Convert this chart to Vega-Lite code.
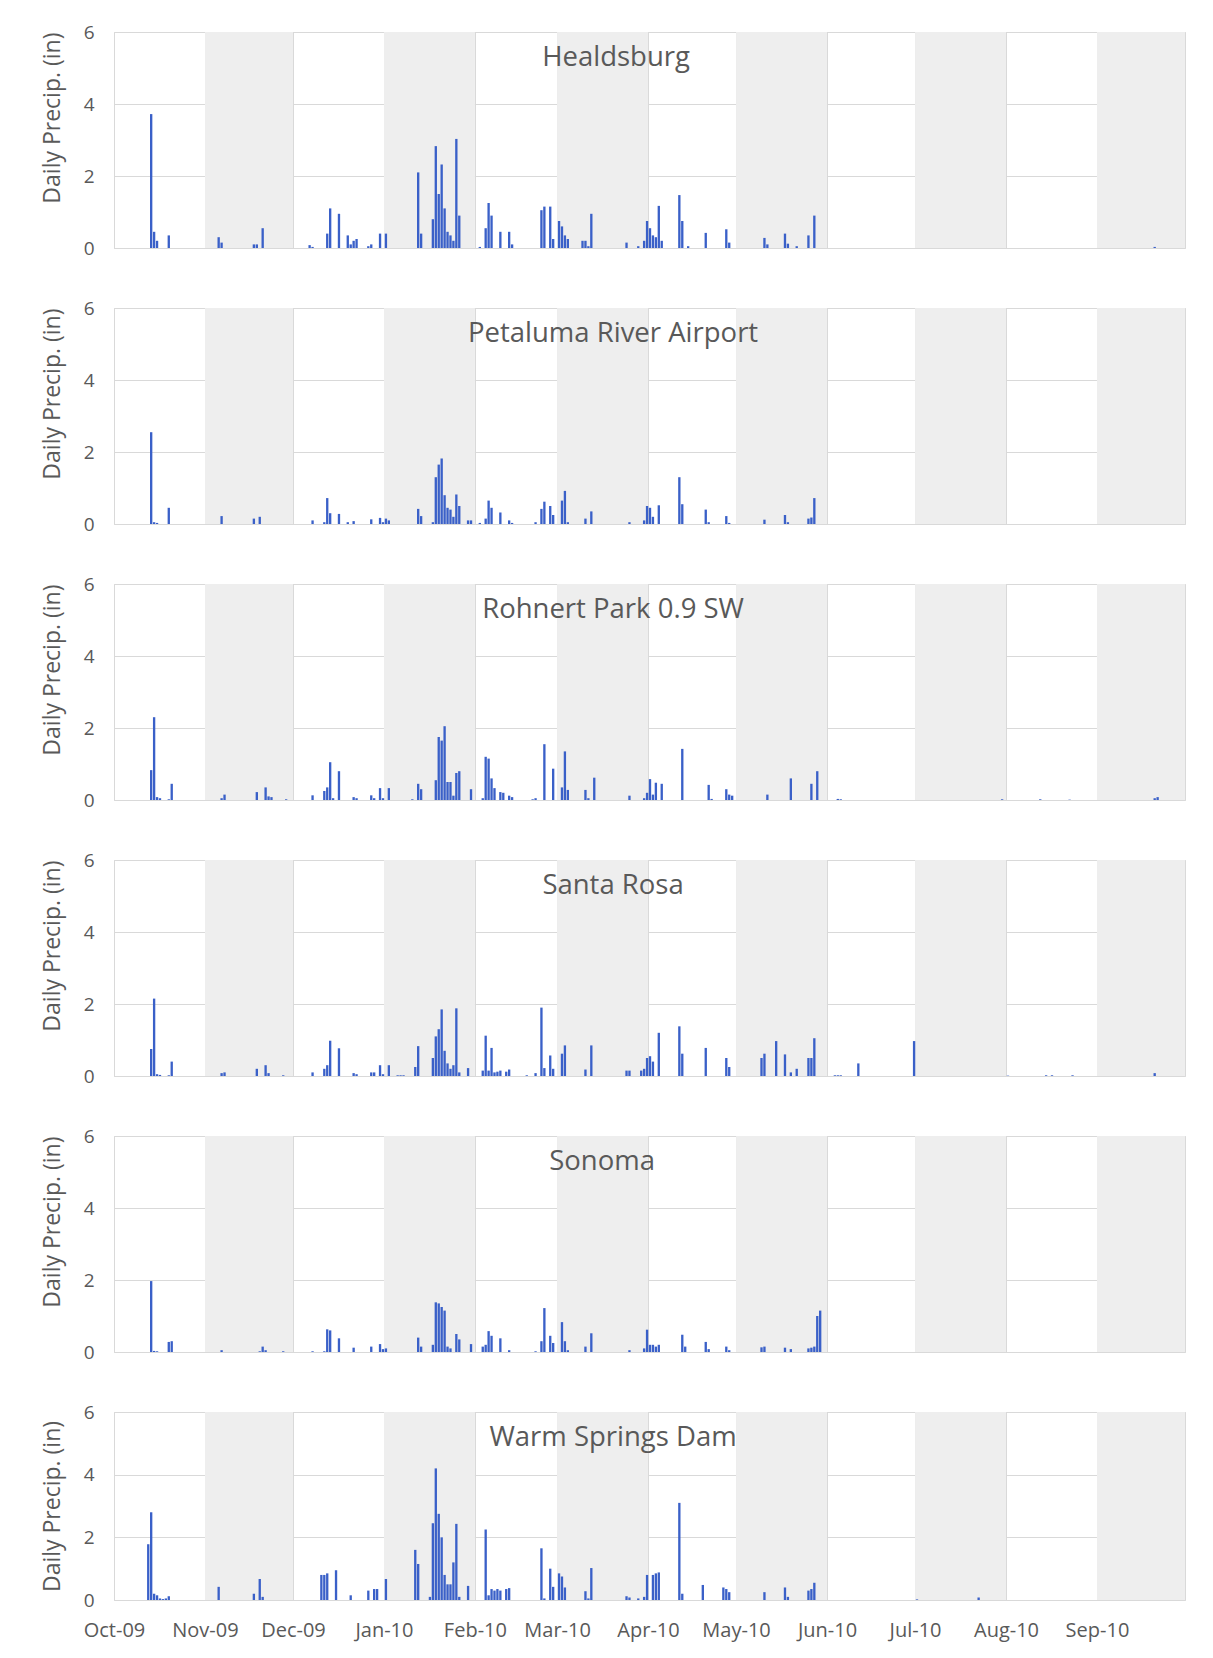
{
"$schema": "https://vega.github.io/schema/vega-lite/v6.json",
"background": "white",
"padding": {"left": 40, "top": 22, "right": 26, "bottom": 14},
"spacing": 60,
"bounds": "flush",
"config": {
 "view": {"stroke": "#d9d9d9", "strokeWidth": 1},
 "font": "Open Sans",
 "bar": {"binSpacing": 0.6},
 "axis": {"gridColor": "#d9d9d9", "gridWidth": 1, "domain": false, "ticks": false, "labelColor": "#595959", "titleColor": "#595959", "labelFont": "Open Sans", "titleFont": "Open Sans", "titleFontWeight": "normal", "zindex": 1},
 "title": {"fontSize": 27.5, "fontWeight": "normal", "color": "#595959", "font": "Open Sans", "anchor": "middle", "frame": "bounds", "baseline": "middle", "offset": -48}
},
"datasets": {
 "months": [{"m0":"2009-11-01","m1":"2009-12-01"},{"m0":"2010-01-01","m1":"2010-02-01"},{"m0":"2010-03-01","m1":"2010-04-01"},{"m0":"2010-05-01","m1":"2010-06-01"},{"m0":"2010-07-01","m1":"2010-08-01"},{"m0":"2010-09-01","m1":"2010-10-01"}],
 "hb": [{"d":"2009-10-13","p":3.72},{"d":"2009-10-14","p":0.45},{"d":"2009-10-15","p":0.2},{"d":"2009-10-19","p":0.35},{"d":"2009-11-05","p":0.3},{"d":"2009-11-06","p":0.15},{"d":"2009-11-17","p":0.1},{"d":"2009-11-18","p":0.1},{"d":"2009-11-20","p":0.55},{"d":"2009-12-06","p":0.08},{"d":"2009-12-07","p":0.03},{"d":"2009-12-12","p":0.4},{"d":"2009-12-13","p":1.1},{"d":"2009-12-16","p":0.95},{"d":"2009-12-19","p":0.35},{"d":"2009-12-20","p":0.1},{"d":"2009-12-21","p":0.2},{"d":"2009-12-22","p":0.25},{"d":"2009-12-26","p":0.05},{"d":"2009-12-27","p":0.1},{"d":"2009-12-30","p":0.4},{"d":"2010-01-01","p":0.4},{"d":"2010-01-12","p":2.1},{"d":"2010-01-13","p":0.4},{"d":"2010-01-17","p":0.8},{"d":"2010-01-18","p":2.83},{"d":"2010-01-19","p":1.5},{"d":"2010-01-20","p":2.32},{"d":"2010-01-21","p":1.1},{"d":"2010-01-22","p":0.45},{"d":"2010-01-23","p":0.35},{"d":"2010-01-24","p":0.2},{"d":"2010-01-25","p":3.03},{"d":"2010-01-26","p":0.9},{"d":"2010-02-02","p":0.03},{"d":"2010-02-04","p":0.55},{"d":"2010-02-05","p":1.25},{"d":"2010-02-06","p":0.9},{"d":"2010-02-09","p":0.45},{"d":"2010-02-12","p":0.45},{"d":"2010-02-13","p":0.1},{"d":"2010-02-23","p":1.05},{"d":"2010-02-24","p":1.15},{"d":"2010-02-26","p":1.15},{"d":"2010-02-27","p":0.25},{"d":"2010-03-01","p":0.75},{"d":"2010-03-02","p":0.6},{"d":"2010-03-03","p":0.35},{"d":"2010-03-04","p":0.25},{"d":"2010-03-09","p":0.2},{"d":"2010-03-10","p":0.2},{"d":"2010-03-11","p":0.05},{"d":"2010-03-12","p":0.95},{"d":"2010-03-24","p":0.15},{"d":"2010-03-28","p":0.05},{"d":"2010-03-30","p":0.2},{"d":"2010-03-31","p":0.75},{"d":"2010-04-01","p":0.55},{"d":"2010-04-02","p":0.35},{"d":"2010-04-03","p":0.3},{"d":"2010-04-04","p":1.17},{"d":"2010-04-05","p":0.2},{"d":"2010-04-11","p":1.47},{"d":"2010-04-12","p":0.75},{"d":"2010-04-14","p":0.05},{"d":"2010-04-20","p":0.42},{"d":"2010-04-27","p":0.52},{"d":"2010-04-28","p":0.15},{"d":"2010-05-10","p":0.28},{"d":"2010-05-11","p":0.1},{"d":"2010-05-17","p":0.4},{"d":"2010-05-18","p":0.12},{"d":"2010-05-21","p":0.05},{"d":"2010-05-25","p":0.35},{"d":"2010-05-27","p":0.9},{"d":"2010-09-20","p":0.03}],
 "pe": [{"d":"2009-10-13","p":2.55},{"d":"2009-10-14","p":0.05},{"d":"2009-10-15","p":0.03},{"d":"2009-10-19","p":0.45},{"d":"2009-11-06","p":0.22},{"d":"2009-11-17","p":0.15},{"d":"2009-11-19","p":0.2},{"d":"2009-12-07","p":0.1},{"d":"2009-12-11","p":0.05},{"d":"2009-12-12","p":0.72},{"d":"2009-12-13","p":0.3},{"d":"2009-12-16","p":0.28},{"d":"2009-12-19","p":0.05},{"d":"2009-12-21","p":0.08},{"d":"2009-12-27","p":0.13},{"d":"2009-12-30","p":0.17},{"d":"2009-12-31","p":0.05},{"d":"2010-01-01","p":0.15},{"d":"2010-01-02","p":0.1},{"d":"2010-01-12","p":0.42},{"d":"2010-01-13","p":0.22},{"d":"2010-01-17","p":0.05},{"d":"2010-01-18","p":1.3},{"d":"2010-01-19","p":1.65},{"d":"2010-01-20","p":1.82},{"d":"2010-01-21","p":0.8},{"d":"2010-01-22","p":0.45},{"d":"2010-01-23","p":0.4},{"d":"2010-01-24","p":0.2},{"d":"2010-01-25","p":0.82},{"d":"2010-01-26","p":0.5},{"d":"2010-01-29","p":0.1},{"d":"2010-01-30","p":0.1},{"d":"2010-02-02","p":0.03},{"d":"2010-02-04","p":0.15},{"d":"2010-02-05","p":0.65},{"d":"2010-02-06","p":0.45},{"d":"2010-02-09","p":0.32},{"d":"2010-02-12","p":0.1},{"d":"2010-02-13","p":0.03},{"d":"2010-02-21","p":0.05},{"d":"2010-02-23","p":0.42},{"d":"2010-02-24","p":0.62},{"d":"2010-02-26","p":0.5},{"d":"2010-02-27","p":0.25},{"d":"2010-03-02","p":0.65},{"d":"2010-03-03","p":0.92},{"d":"2010-03-04","p":0.05},{"d":"2010-03-10","p":0.15},{"d":"2010-03-12","p":0.35},{"d":"2010-03-25","p":0.05},{"d":"2010-03-30","p":0.1},{"d":"2010-03-31","p":0.5},{"d":"2010-04-01","p":0.45},{"d":"2010-04-02","p":0.2},{"d":"2010-04-04","p":0.52},{"d":"2010-04-11","p":1.3},{"d":"2010-04-12","p":0.55},{"d":"2010-04-20","p":0.4},{"d":"2010-04-21","p":0.05},{"d":"2010-04-27","p":0.22},{"d":"2010-04-28","p":0.03},{"d":"2010-05-10","p":0.12},{"d":"2010-05-17","p":0.25},{"d":"2010-05-18","p":0.05},{"d":"2010-05-25","p":0.15},{"d":"2010-05-26","p":0.18},{"d":"2010-05-27","p":0.72}],
 "rp": [{"d":"2009-10-13","p":0.83},{"d":"2009-10-14","p":2.3},{"d":"2009-10-15","p":0.08},{"d":"2009-10-16","p":0.05},{"d":"2009-10-19","p":0.02},{"d":"2009-10-20","p":0.45},{"d":"2009-11-06","p":0.05},{"d":"2009-11-07","p":0.15},{"d":"2009-11-18","p":0.22},{"d":"2009-11-21","p":0.35},{"d":"2009-11-22","p":0.1},{"d":"2009-11-23","p":0.08},{"d":"2009-11-28","p":0.02},{"d":"2009-12-07","p":0.13},{"d":"2009-12-11","p":0.25},{"d":"2009-12-12","p":0.35},{"d":"2009-12-13","p":1.05},{"d":"2009-12-14","p":0.05},{"d":"2009-12-16","p":0.8},{"d":"2009-12-21","p":0.08},{"d":"2009-12-22","p":0.05},{"d":"2009-12-27","p":0.13},{"d":"2009-12-28","p":0.05},{"d":"2009-12-30","p":0.33},{"d":"2009-12-31","p":0.05},{"d":"2010-01-02","p":0.33},{"d":"2010-01-10","p":0.02},{"d":"2010-01-12","p":0.45},{"d":"2010-01-13","p":0.3},{"d":"2010-01-18","p":0.55},{"d":"2010-01-19","p":1.75},{"d":"2010-01-20","p":1.65},{"d":"2010-01-21","p":2.05},{"d":"2010-01-22","p":0.5},{"d":"2010-01-23","p":0.5},{"d":"2010-01-24","p":0.12},{"d":"2010-01-25","p":0.75},{"d":"2010-01-26","p":0.8},{"d":"2010-01-30","p":0.3},{"d":"2010-02-03","p":0.05},{"d":"2010-02-04","p":1.2},{"d":"2010-02-05","p":1.15},{"d":"2010-02-06","p":0.6},{"d":"2010-02-07","p":0.33},{"d":"2010-02-09","p":0.22},{"d":"2010-02-10","p":0.2},{"d":"2010-02-12","p":0.12},{"d":"2010-02-13","p":0.08},{"d":"2010-02-20","p":0.02},{"d":"2010-02-21","p":0.05},{"d":"2010-02-24","p":1.55},{"d":"2010-02-27","p":0.87},{"d":"2010-03-02","p":0.35},{"d":"2010-03-03","p":1.35},{"d":"2010-03-04","p":0.28},{"d":"2010-03-10","p":0.28},{"d":"2010-03-11","p":0.05},{"d":"2010-03-13","p":0.62},{"d":"2010-03-25","p":0.12},{"d":"2010-03-30","p":0.05},{"d":"2010-03-31","p":0.2},{"d":"2010-04-01","p":0.58},{"d":"2010-04-02","p":0.15},{"d":"2010-04-03","p":0.48},{"d":"2010-04-05","p":0.45},{"d":"2010-04-12","p":1.42},{"d":"2010-04-21","p":0.42},{"d":"2010-04-22","p":0.03},{"d":"2010-04-27","p":0.3},{"d":"2010-04-28","p":0.15},{"d":"2010-04-29","p":0.12},{"d":"2010-05-11","p":0.15},{"d":"2010-05-19","p":0.6},{"d":"2010-05-26","p":0.45},{"d":"2010-05-28","p":0.8},{"d":"2010-06-04","p":0.03},{"d":"2010-06-05","p":0.02},{"d":"2010-07-30","p":0.02},{"d":"2010-08-12","p":0.02},{"d":"2010-08-22","p":0.01},{"d":"2010-09-20","p":0.05},{"d":"2010-09-21","p":0.08}],
 "sr": [{"d":"2009-10-13","p":0.75},{"d":"2009-10-14","p":2.15},{"d":"2009-10-15","p":0.05},{"d":"2009-10-16","p":0.03},{"d":"2009-10-19","p":0.02},{"d":"2009-10-20","p":0.4},{"d":"2009-11-06","p":0.08},{"d":"2009-11-07","p":0.1},{"d":"2009-11-18","p":0.2},{"d":"2009-11-21","p":0.3},{"d":"2009-11-22","p":0.08},{"d":"2009-11-27","p":0.02},{"d":"2009-12-07","p":0.1},{"d":"2009-12-11","p":0.2},{"d":"2009-12-12","p":0.3},{"d":"2009-12-13","p":0.98},{"d":"2009-12-16","p":0.77},{"d":"2009-12-21","p":0.08},{"d":"2009-12-22","p":0.05},{"d":"2009-12-27","p":0.1},{"d":"2009-12-28","p":0.1},{"d":"2009-12-30","p":0.3},{"d":"2009-12-31","p":0.05},{"d":"2010-01-02","p":0.3},{"d":"2010-01-05","p":0.02},{"d":"2010-01-06","p":0.02},{"d":"2010-01-07","p":0.02},{"d":"2010-01-11","p":0.25},{"d":"2010-01-12","p":0.83},{"d":"2010-01-17","p":0.5},{"d":"2010-01-18","p":1.1},{"d":"2010-01-19","p":1.3},{"d":"2010-01-20","p":1.85},{"d":"2010-01-21","p":0.7},{"d":"2010-01-22","p":0.35},{"d":"2010-01-23","p":0.2},{"d":"2010-01-24","p":0.3},{"d":"2010-01-25","p":1.88},{"d":"2010-01-26","p":0.1},{"d":"2010-01-29","p":0.22},{"d":"2010-02-03","p":0.15},{"d":"2010-02-04","p":1.12},{"d":"2010-02-05","p":0.15},{"d":"2010-02-06","p":0.78},{"d":"2010-02-07","p":0.1},{"d":"2010-02-08","p":0.12},{"d":"2010-02-09","p":0.15},{"d":"2010-02-11","p":0.12},{"d":"2010-02-12","p":0.18},{"d":"2010-02-18","p":0.02},{"d":"2010-02-21","p":0.08},{"d":"2010-02-23","p":1.9},{"d":"2010-02-24","p":0.22},{"d":"2010-02-26","p":0.57},{"d":"2010-02-27","p":0.2},{"d":"2010-03-02","p":0.62},{"d":"2010-03-03","p":0.85},{"d":"2010-03-10","p":0.18},{"d":"2010-03-12","p":0.85},{"d":"2010-03-24","p":0.15},{"d":"2010-03-25","p":0.15},{"d":"2010-03-29","p":0.15},{"d":"2010-03-30","p":0.2},{"d":"2010-03-31","p":0.5},{"d":"2010-04-01","p":0.55},{"d":"2010-04-02","p":0.4},{"d":"2010-04-04","p":1.2},{"d":"2010-04-11","p":1.38},{"d":"2010-04-12","p":0.62},{"d":"2010-04-20","p":0.78},{"d":"2010-04-27","p":0.5},{"d":"2010-04-28","p":0.25},{"d":"2010-05-09","p":0.5},{"d":"2010-05-10","p":0.62},{"d":"2010-05-14","p":0.97},{"d":"2010-05-17","p":0.6},{"d":"2010-05-19","p":0.1},{"d":"2010-05-21","p":0.2},{"d":"2010-05-25","p":0.5},{"d":"2010-05-26","p":0.5},{"d":"2010-05-27","p":1.05},{"d":"2010-06-03","p":0.02},{"d":"2010-06-04","p":0.02},{"d":"2010-06-05","p":0.02},{"d":"2010-06-11","p":0.35},{"d":"2010-06-30","p":0.97},{"d":"2010-08-01","p":0.01},{"d":"2010-08-14","p":0.02},{"d":"2010-08-16","p":0.02},{"d":"2010-08-23","p":0.02},{"d":"2010-09-20","p":0.08}],
 "so": [{"d":"2009-10-13","p":1.97},{"d":"2009-10-14","p":0.03},{"d":"2009-10-15","p":0.02},{"d":"2009-10-19","p":0.28},{"d":"2009-10-20","p":0.3},{"d":"2009-11-06","p":0.05},{"d":"2009-11-19","p":0.02},{"d":"2009-11-20","p":0.15},{"d":"2009-11-21","p":0.05},{"d":"2009-11-27","p":0.02},{"d":"2009-12-07","p":0.02},{"d":"2009-12-11","p":0.02},{"d":"2009-12-12","p":0.63},{"d":"2009-12-13","p":0.6},{"d":"2009-12-16","p":0.38},{"d":"2009-12-21","p":0.12},{"d":"2009-12-27","p":0.15},{"d":"2009-12-30","p":0.22},{"d":"2009-12-31","p":0.08},{"d":"2010-01-01","p":0.1},{"d":"2010-01-12","p":0.4},{"d":"2010-01-13","p":0.15},{"d":"2010-01-17","p":0.2},{"d":"2010-01-18","p":1.38},{"d":"2010-01-19","p":1.35},{"d":"2010-01-20","p":1.25},{"d":"2010-01-21","p":1.15},{"d":"2010-01-22","p":0.15},{"d":"2010-01-23","p":0.1},{"d":"2010-01-25","p":0.5},{"d":"2010-01-26","p":0.35},{"d":"2010-01-30","p":0.22},{"d":"2010-02-03","p":0.15},{"d":"2010-02-04","p":0.2},{"d":"2010-02-05","p":0.58},{"d":"2010-02-06","p":0.45},{"d":"2010-02-09","p":0.38},{"d":"2010-02-12","p":0.05},{"d":"2010-02-21","p":0.02},{"d":"2010-02-23","p":0.3},{"d":"2010-02-24","p":1.22},{"d":"2010-02-26","p":0.45},{"d":"2010-02-27","p":0.25},{"d":"2010-03-02","p":0.83},{"d":"2010-03-03","p":0.3},{"d":"2010-03-04","p":0.05},{"d":"2010-03-10","p":0.15},{"d":"2010-03-12","p":0.52},{"d":"2010-03-25","p":0.05},{"d":"2010-03-30","p":0.1},{"d":"2010-03-31","p":0.62},{"d":"2010-04-01","p":0.2},{"d":"2010-04-02","p":0.2},{"d":"2010-04-03","p":0.15},{"d":"2010-04-04","p":0.2},{"d":"2010-04-12","p":0.48},{"d":"2010-04-13","p":0.15},{"d":"2010-04-20","p":0.28},{"d":"2010-04-21","p":0.08},{"d":"2010-04-27","p":0.15},{"d":"2010-04-28","p":0.05},{"d":"2010-05-09","p":0.13},{"d":"2010-05-10","p":0.15},{"d":"2010-05-17","p":0.12},{"d":"2010-05-19","p":0.08},{"d":"2010-05-25","p":0.1},{"d":"2010-05-26","p":0.12},{"d":"2010-05-27","p":0.15},{"d":"2010-05-28","p":1.0},{"d":"2010-05-29","p":1.15}],
 "ws": [{"d":"2009-10-12","p":1.78},{"d":"2009-10-13","p":2.8},{"d":"2009-10-14","p":0.2},{"d":"2009-10-15","p":0.15},{"d":"2009-10-16","p":0.05},{"d":"2009-10-17","p":0.03},{"d":"2009-10-18","p":0.05},{"d":"2009-10-19","p":0.12},{"d":"2009-11-05","p":0.42},{"d":"2009-11-17","p":0.2},{"d":"2009-11-19","p":0.67},{"d":"2009-11-20","p":0.1},{"d":"2009-12-10","p":0.8},{"d":"2009-12-11","p":0.8},{"d":"2009-12-12","p":0.85},{"d":"2009-12-15","p":0.95},{"d":"2009-12-20","p":0.15},{"d":"2009-12-26","p":0.3},{"d":"2009-12-28","p":0.35},{"d":"2009-12-29","p":0.35},{"d":"2010-01-01","p":0.67},{"d":"2010-01-11","p":1.6},{"d":"2010-01-12","p":1.15},{"d":"2010-01-16","p":0.1},{"d":"2010-01-17","p":2.45},{"d":"2010-01-18","p":4.2},{"d":"2010-01-19","p":2.75},{"d":"2010-01-20","p":2.0},{"d":"2010-01-21","p":0.8},{"d":"2010-01-22","p":0.5},{"d":"2010-01-23","p":0.5},{"d":"2010-01-24","p":1.2},{"d":"2010-01-25","p":2.43},{"d":"2010-01-26","p":0.1},{"d":"2010-01-29","p":0.45},{"d":"2010-02-04","p":2.25},{"d":"2010-02-05","p":0.15},{"d":"2010-02-06","p":0.35},{"d":"2010-02-07","p":0.3},{"d":"2010-02-08","p":0.35},{"d":"2010-02-09","p":0.3},{"d":"2010-02-11","p":0.35},{"d":"2010-02-12","p":0.38},{"d":"2010-02-23","p":1.65},{"d":"2010-02-24","p":0.05},{"d":"2010-02-26","p":1.0},{"d":"2010-02-27","p":0.42},{"d":"2010-03-01","p":0.85},{"d":"2010-03-02","p":0.75},{"d":"2010-03-03","p":0.4},{"d":"2010-03-10","p":0.28},{"d":"2010-03-11","p":0.05},{"d":"2010-03-12","p":1.02},{"d":"2010-03-24","p":0.12},{"d":"2010-03-25","p":0.08},{"d":"2010-03-28","p":0.05},{"d":"2010-03-30","p":0.1},{"d":"2010-03-31","p":0.8},{"d":"2010-04-02","p":0.8},{"d":"2010-04-03","p":0.85},{"d":"2010-04-04","p":0.88},{"d":"2010-04-11","p":3.1},{"d":"2010-04-12","p":0.2},{"d":"2010-04-19","p":0.48},{"d":"2010-04-26","p":0.4},{"d":"2010-04-27","p":0.35},{"d":"2010-04-28","p":0.25},{"d":"2010-05-10","p":0.25},{"d":"2010-05-17","p":0.4},{"d":"2010-05-18","p":0.1},{"d":"2010-05-25","p":0.3},{"d":"2010-05-26","p":0.35},{"d":"2010-05-27","p":0.55},{"d":"2010-07-01","p":0.02},{"d":"2010-07-22","p":0.08}]
},
"vconcat": [
 {"title": {"text": "Healdsburg", "dx": 3}, "width": 1071, "height": 216, "layer": [
  {"data": {"name": "months"}, "mark": {"type": "rect", "color": "#eeeeee"}, "encoding": {"x": {"field": "m0", "type": "temporal", "scale": {"type": "utc", "domain": [{"year": 2009, "month": 10, "date": 1, "utc": true}, {"year": 2010, "month": 10, "date": 1, "utc": true}]}, "axis": {"title": null, "labels": false, "grid": true, "values": [{"year":2009,"month":10,"date":1,"utc":true},{"year":2009,"month":11,"date":1,"utc":true},{"year":2009,"month":12,"date":1,"utc":true},{"year":2010,"month":1,"date":1,"utc":true},{"year":2010,"month":2,"date":1,"utc":true},{"year":2010,"month":3,"date":1,"utc":true},{"year":2010,"month":4,"date":1,"utc":true},{"year":2010,"month":5,"date":1,"utc":true},{"year":2010,"month":6,"date":1,"utc":true},{"year":2010,"month":7,"date":1,"utc":true},{"year":2010,"month":8,"date":1,"utc":true},{"year":2010,"month":9,"date":1,"utc":true}]}}, "x2": {"field": "m1"}}},
  {"data": {"name": "hb"}, "mark": {"type": "bar", "color": "#3a60c8"}, "encoding": {"x": {"field": "d", "type": "temporal", "timeUnit": "utcyearmonthdate", "axis": {"title": null, "labels": false}}, "y": {"field": "p", "type": "quantitative", "scale": {"domain": [0, 6]}, "axis": {"values": [0, 2, 4, 6], "title": "Daily Precip. (in)", "titleAnchor": "end", "grid": true, "labelFontSize": 19, "titleFontSize": 23, "labelPadding": 20, "titlePadding": 19}}}}
 ]},
 {"title": "Petaluma River Airport", "width": 1071, "height": 216, "layer": [
  {"data": {"name": "months"}, "mark": {"type": "rect", "color": "#eeeeee"}, "encoding": {"x": {"field": "m0", "type": "temporal", "scale": {"type": "utc", "domain": [{"year": 2009, "month": 10, "date": 1, "utc": true}, {"year": 2010, "month": 10, "date": 1, "utc": true}]}, "axis": {"title": null, "labels": false, "grid": true, "values": [{"year":2009,"month":10,"date":1,"utc":true},{"year":2009,"month":11,"date":1,"utc":true},{"year":2009,"month":12,"date":1,"utc":true},{"year":2010,"month":1,"date":1,"utc":true},{"year":2010,"month":2,"date":1,"utc":true},{"year":2010,"month":3,"date":1,"utc":true},{"year":2010,"month":4,"date":1,"utc":true},{"year":2010,"month":5,"date":1,"utc":true},{"year":2010,"month":6,"date":1,"utc":true},{"year":2010,"month":7,"date":1,"utc":true},{"year":2010,"month":8,"date":1,"utc":true},{"year":2010,"month":9,"date":1,"utc":true}]}}, "x2": {"field": "m1"}}},
  {"data": {"name": "pe"}, "mark": {"type": "bar", "color": "#3a60c8"}, "encoding": {"x": {"field": "d", "type": "temporal", "timeUnit": "utcyearmonthdate", "axis": {"title": null, "labels": false}}, "y": {"field": "p", "type": "quantitative", "scale": {"domain": [0, 6]}, "axis": {"values": [0, 2, 4, 6], "title": "Daily Precip. (in)", "titleAnchor": "end", "grid": true, "labelFontSize": 19, "titleFontSize": 23, "labelPadding": 20, "titlePadding": 19}}}}
 ]},
 {"title": "Rohnert Park 0.9 SW", "width": 1071, "height": 216, "layer": [
  {"data": {"name": "months"}, "mark": {"type": "rect", "color": "#eeeeee"}, "encoding": {"x": {"field": "m0", "type": "temporal", "scale": {"type": "utc", "domain": [{"year": 2009, "month": 10, "date": 1, "utc": true}, {"year": 2010, "month": 10, "date": 1, "utc": true}]}, "axis": {"title": null, "labels": false, "grid": true, "values": [{"year":2009,"month":10,"date":1,"utc":true},{"year":2009,"month":11,"date":1,"utc":true},{"year":2009,"month":12,"date":1,"utc":true},{"year":2010,"month":1,"date":1,"utc":true},{"year":2010,"month":2,"date":1,"utc":true},{"year":2010,"month":3,"date":1,"utc":true},{"year":2010,"month":4,"date":1,"utc":true},{"year":2010,"month":5,"date":1,"utc":true},{"year":2010,"month":6,"date":1,"utc":true},{"year":2010,"month":7,"date":1,"utc":true},{"year":2010,"month":8,"date":1,"utc":true},{"year":2010,"month":9,"date":1,"utc":true}]}}, "x2": {"field": "m1"}}},
  {"data": {"name": "rp"}, "mark": {"type": "bar", "color": "#3a60c8"}, "encoding": {"x": {"field": "d", "type": "temporal", "timeUnit": "utcyearmonthdate", "axis": {"title": null, "labels": false}}, "y": {"field": "p", "type": "quantitative", "scale": {"domain": [0, 6]}, "axis": {"values": [0, 2, 4, 6], "title": "Daily Precip. (in)", "titleAnchor": "end", "grid": true, "labelFontSize": 19, "titleFontSize": 23, "labelPadding": 20, "titlePadding": 19}}}}
 ]},
 {"title": "Santa Rosa", "width": 1071, "height": 216, "layer": [
  {"data": {"name": "months"}, "mark": {"type": "rect", "color": "#eeeeee"}, "encoding": {"x": {"field": "m0", "type": "temporal", "scale": {"type": "utc", "domain": [{"year": 2009, "month": 10, "date": 1, "utc": true}, {"year": 2010, "month": 10, "date": 1, "utc": true}]}, "axis": {"title": null, "labels": false, "grid": true, "values": [{"year":2009,"month":10,"date":1,"utc":true},{"year":2009,"month":11,"date":1,"utc":true},{"year":2009,"month":12,"date":1,"utc":true},{"year":2010,"month":1,"date":1,"utc":true},{"year":2010,"month":2,"date":1,"utc":true},{"year":2010,"month":3,"date":1,"utc":true},{"year":2010,"month":4,"date":1,"utc":true},{"year":2010,"month":5,"date":1,"utc":true},{"year":2010,"month":6,"date":1,"utc":true},{"year":2010,"month":7,"date":1,"utc":true},{"year":2010,"month":8,"date":1,"utc":true},{"year":2010,"month":9,"date":1,"utc":true}]}}, "x2": {"field": "m1"}}},
  {"data": {"name": "sr"}, "mark": {"type": "bar", "color": "#3a60c8"}, "encoding": {"x": {"field": "d", "type": "temporal", "timeUnit": "utcyearmonthdate", "axis": {"title": null, "labels": false}}, "y": {"field": "p", "type": "quantitative", "scale": {"domain": [0, 6]}, "axis": {"values": [0, 2, 4, 6], "title": "Daily Precip. (in)", "titleAnchor": "end", "grid": true, "labelFontSize": 19, "titleFontSize": 23, "labelPadding": 20, "titlePadding": 19}}}}
 ]},
 {"title": {"text": "Sonoma", "dx": -11}, "width": 1071, "height": 216, "layer": [
  {"data": {"name": "months"}, "mark": {"type": "rect", "color": "#eeeeee"}, "encoding": {"x": {"field": "m0", "type": "temporal", "scale": {"type": "utc", "domain": [{"year": 2009, "month": 10, "date": 1, "utc": true}, {"year": 2010, "month": 10, "date": 1, "utc": true}]}, "axis": {"title": null, "labels": false, "grid": true, "values": [{"year":2009,"month":10,"date":1,"utc":true},{"year":2009,"month":11,"date":1,"utc":true},{"year":2009,"month":12,"date":1,"utc":true},{"year":2010,"month":1,"date":1,"utc":true},{"year":2010,"month":2,"date":1,"utc":true},{"year":2010,"month":3,"date":1,"utc":true},{"year":2010,"month":4,"date":1,"utc":true},{"year":2010,"month":5,"date":1,"utc":true},{"year":2010,"month":6,"date":1,"utc":true},{"year":2010,"month":7,"date":1,"utc":true},{"year":2010,"month":8,"date":1,"utc":true},{"year":2010,"month":9,"date":1,"utc":true}]}}, "x2": {"field": "m1"}}},
  {"data": {"name": "so"}, "mark": {"type": "bar", "color": "#3a60c8"}, "encoding": {"x": {"field": "d", "type": "temporal", "timeUnit": "utcyearmonthdate", "axis": {"title": null, "labels": false}}, "y": {"field": "p", "type": "quantitative", "scale": {"domain": [0, 6]}, "axis": {"values": [0, 2, 4, 6], "title": "Daily Precip. (in)", "titleAnchor": "end", "grid": true, "labelFontSize": 19, "titleFontSize": 23, "labelPadding": 20, "titlePadding": 19}}}}
 ]},
 {"title": "Warm Springs Dam", "width": 1071, "height": 188, "layer": [
  {"data": {"name": "months"}, "mark": {"type": "rect", "color": "#eeeeee"}, "encoding": {"x": {"field": "m0", "type": "temporal", "scale": {"type": "utc", "domain": [{"year": 2009, "month": 10, "date": 1, "utc": true}, {"year": 2010, "month": 10, "date": 1, "utc": true}]}, "axis": {"title": null, "labels": true, "labelFlush": false, "labelExpr": "utcFormat(datum.value, '%b-%y')", "labelFontSize": 20, "labelPadding": 20, "labelOverlap": false, "grid": true, "values": [{"year":2009,"month":10,"date":1,"utc":true},{"year":2009,"month":11,"date":1,"utc":true},{"year":2009,"month":12,"date":1,"utc":true},{"year":2010,"month":1,"date":1,"utc":true},{"year":2010,"month":2,"date":1,"utc":true},{"year":2010,"month":3,"date":1,"utc":true},{"year":2010,"month":4,"date":1,"utc":true},{"year":2010,"month":5,"date":1,"utc":true},{"year":2010,"month":6,"date":1,"utc":true},{"year":2010,"month":7,"date":1,"utc":true},{"year":2010,"month":8,"date":1,"utc":true},{"year":2010,"month":9,"date":1,"utc":true}]}}, "x2": {"field": "m1"}}},
  {"data": {"name": "ws"}, "mark": {"type": "bar", "color": "#3a60c8"}, "encoding": {"x": {"field": "d", "type": "temporal", "timeUnit": "utcyearmonthdate", "axis": {"title": null, "labelFlush": false, "labelExpr": "utcFormat(datum.value, '%b-%y')", "labelFontSize": 20, "labelPadding": 20, "labelOverlap": false}}, "y": {"field": "p", "type": "quantitative", "scale": {"domain": [0, 6]}, "axis": {"values": [0, 2, 4, 6], "title": "Daily Precip. (in)", "grid": true, "labelFontSize": 19, "titleFontSize": 23, "labelPadding": 20, "titlePadding": 19}}}}
 ]}
]
}
